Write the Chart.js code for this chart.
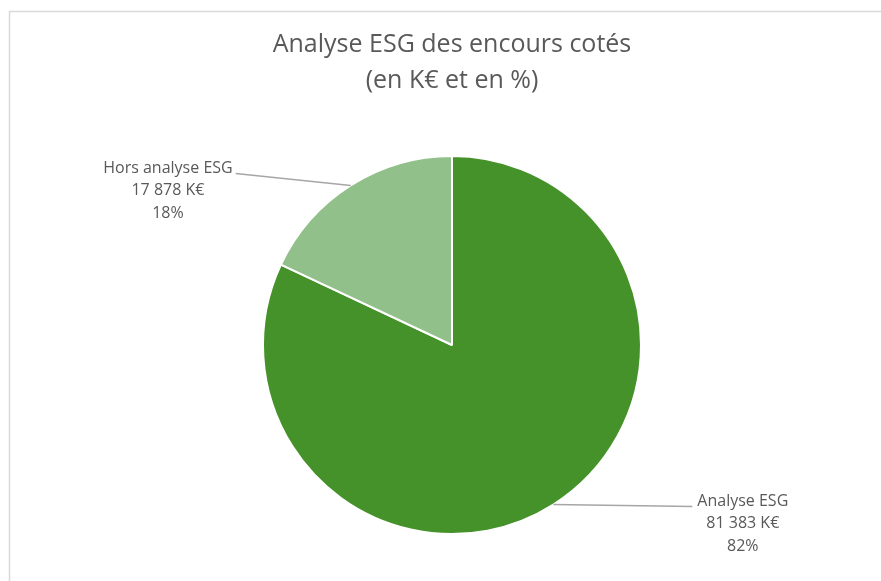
<!DOCTYPE html>
<html>
<head>
<meta charset="utf-8">
<script src="https://cdn.jsdelivr.net/npm/chart.js@4/dist/chart.umd.min.js"></script>
<style>
  html, body { margin: 0; padding: 0; background: #fff; }
  #wrap { position: relative; width: 881px; height: 581px; }
</style>
</head>
<body>
<div id="wrap"><canvas id="chart"></canvas></div>
<script>
const categories = ['Analyse ESG', 'Hors analyse ESG'];
const values = [81383, 17878];
const colors = ['#46922a', '#92c08a'];
const titleLines = ['Analyse ESG des encours cotés', '(en K€ et en %)'];

// label placement: offset of the leader end from the slice edge, side of text
const labelOffsets = [
  { dx: 139, dy: 2, side: 'right' },
  { dx: -115, dy: -12, side: 'left' }
];

const TEXT_COLOR = '#595959';
const FONT = '"Open Sans", "DejaVu Sans", sans-serif';

function fmtK(v) {
  return String(v).replace(/\B(?=(\d{3})+(?!\d))/g, ' ') + ' K€';
}

const total = values.reduce((a, b) => a + b, 0);

// frame around the whole chart
const framePlugin = {
  id: 'frame',
  beforeDraw(chart) {
    const ctx = chart.ctx;
    ctx.save();
    ctx.strokeStyle = '#d9d9d9';
    ctx.lineWidth = 1.5;
    ctx.strokeRect(9.5, 11.5, chart.width + 20, chart.height + 20);
    ctx.restore();
  }
};

// leader lines + three line labels
const sliceLabels = {
  id: 'sliceLabels',
  afterDatasetsDraw(chart) {
    const ctx = chart.ctx;
    const meta = chart.getDatasetMeta(0);
    ctx.save();
    ctx.font = '16px ' + FONT;
    ctx.fillStyle = TEXT_COLOR;
    ctx.textAlign = 'center';
    ctx.textBaseline = 'middle';
    meta.data.forEach((arc, i) => {
      const { x, y, startAngle, endAngle, outerRadius } = arc.getProps(['x', 'y', 'startAngle', 'endAngle', 'outerRadius'], true);
      const mid = (startAngle + endAngle) / 2;
      const sx = x + Math.cos(mid) * outerRadius;
      const sy = y + Math.sin(mid) * outerRadius;
      const off = labelOffsets[i];
      const ex = sx + off.dx;
      const ey = sy + off.dy;

      ctx.strokeStyle = '#a6a6a6';
      ctx.lineWidth = 1.5;
      ctx.beginPath();
      ctx.moveTo(sx, sy);
      ctx.lineTo(ex, ey);
      ctx.stroke();

      const lines = [
        categories[i],
        fmtK(values[i]),
        Math.round(values[i] / total * 100) + '%'
      ];
      const w = Math.max(...lines.map(l => ctx.measureText(l).width));
      const cx = off.side === 'left' ? ex - 3 - w / 2 : ex + 5 + w / 2;
      lines.forEach((l, k) => {
        ctx.fillText(l, cx, ey - 5.5 + k * 22.5);
      });
    });
    ctx.restore();
  }
};

new Chart(document.getElementById('chart'), {
  type: 'pie',
  data: {
    labels: categories,
    datasets: [{
      data: values,
      backgroundColor: colors,
      borderColor: '#ffffff',
      borderWidth: 2
    }]
  },
  options: {
    responsive: true,
    maintainAspectRatio: false,
    animation: false,
    layout: {
      padding: { left: 262, right: 239, top: 0, bottom: 46 }
    },
    plugins: {
      legend: { display: false },
      tooltip: { enabled: false },
      title: {
        display: true,
        text: titleLines,
        color: TEXT_COLOR,
        font: { family: FONT, size: 25, weight: 'normal', lineHeight: 1.44 },
        padding: { top: 27, bottom: 56 }
      }
    }
  },
  plugins: [framePlugin, sliceLabels]
});
</script>
</body>
</html>
